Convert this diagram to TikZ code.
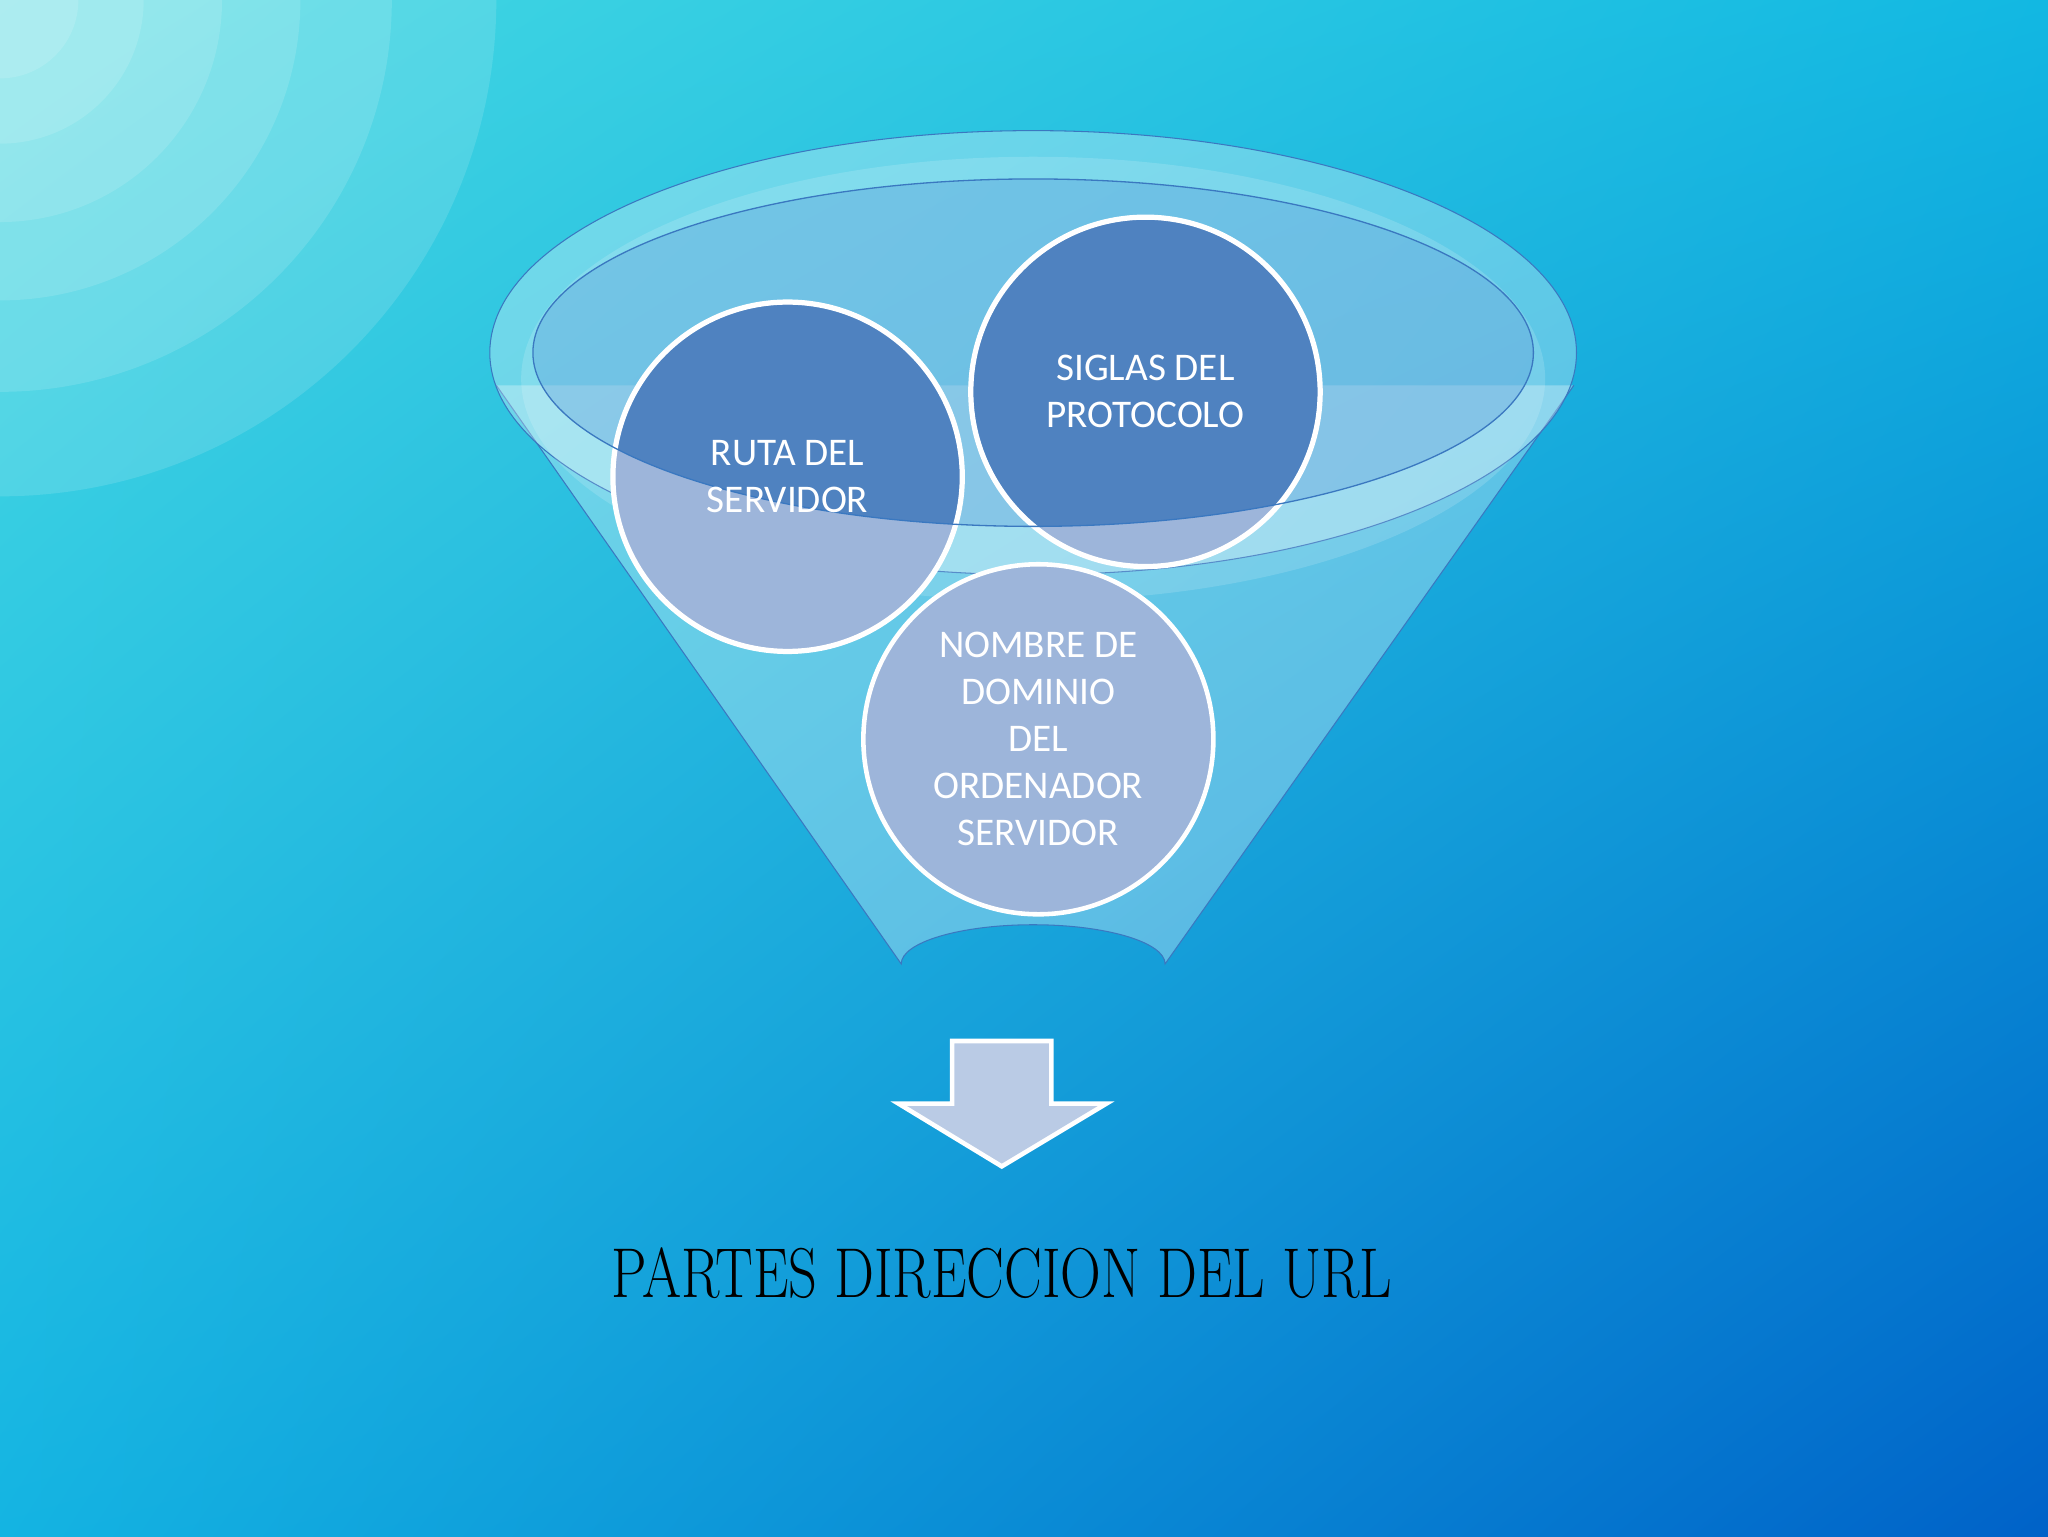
\documentclass[tikz,border=0pt]{standalone}
\usepackage{fontspec}
\usetikzlibrary{shadings}
\newfontfamily\carl{Carlito}
\begin{document}
\begin{tikzpicture}[x=1pt,y=-1pt,
  circ/.style={draw=white,line width=3.5pt},
  ctext/.style={text=white,font=\carl\fontsize{30}{36}\selectfont,align=center}]
\definecolor{tl}{HTML}{48DAE2}\definecolor{tr}{HTML}{12B8E2}
\definecolor{bl}{HTML}{14B4E2}\definecolor{br}{HTML}{0062C8}
\definecolor{dk}{HTML}{4F82C0}\definecolor{lt}{HTML}{9DB5DA}
\definecolor{edge}{HTML}{3A78C0}
\useasboundingbox (0,0) rectangle (1568,1176);
\shade[upper left=tl,upper right=tr,lower left=bl,lower right=br] (0,0) rectangle (1568,1176);
\foreach \r in {380,300,230,170,110,60} \fill[white,opacity=0.13] (0,0) circle[radius=\r];
% funnel body
\path[fill=white,fill opacity=0.3]
  (380,295) -- (690,738) arc[start angle=180,end angle=0,x radius=101,y radius=-30] -- (1205,295) -- cycle;
\draw[edge,line width=0.8pt] (380,295) -- (690,738) arc[start angle=180,end angle=0,x radius=101,y radius=-30] -- (1205,295);
% ring
\path[fill=white,fill opacity=0.3,draw=edge,line width=0.8pt] (791,270) ellipse[x radius=416,y radius=170];
\fill[white,opacity=0.15] (791,290) ellipse[x radius=392,y radius=170];
\fill[cyan!60!blue!70!white,opacity=0.35] (791,270) ellipse[x radius=383,y radius=133];
% circles
\node[circle,circ,fill=lt,minimum size=268pt] (ruta) at (603,365) {};
\node[circle,circ,fill=lt,minimum size=268pt] (sig) at (877,300) {};
\node[circle,circ,fill=lt,minimum size=268pt] (nom) at (795,566) {};
\begin{scope}
\clip (791,270) ellipse[x radius=383,y radius=133];
\fill[dk] (603,365) circle[radius=132];
\fill[dk] (877,300) circle[radius=132];
\end{scope}
\draw[white,line width=3.5pt] (603,365) circle[radius=133.5] (877,300) circle[radius=133.5];
\draw[edge,line width=1pt] (791,270) ellipse[x radius=383,y radius=133];
\node[ctext] at (603,365) {RUTA DEL\\SERVIDOR};
\node[ctext] at (877,300) {SIGLAS DEL\\PROTOCOLO};
\node[ctext] at (795,566) {NOMBRE DE\\DOMINIO\\DEL\\ORDENADOR\\SERVIDOR};
% arrow
\path[fill=lt!70!white,draw=white,line width=3.5pt,line join=miter]
  (729,797) -- (805,797) -- (805,845) -- (847,845) -- (767,893) -- (688,845) -- (729,845) -- cycle;
\node[font=\fontsize{54}{56}\selectfont,xscale=0.8] (title) at (767,975) {PARTES DIRECCION DEL URL};
\end{tikzpicture}
\end{document}
